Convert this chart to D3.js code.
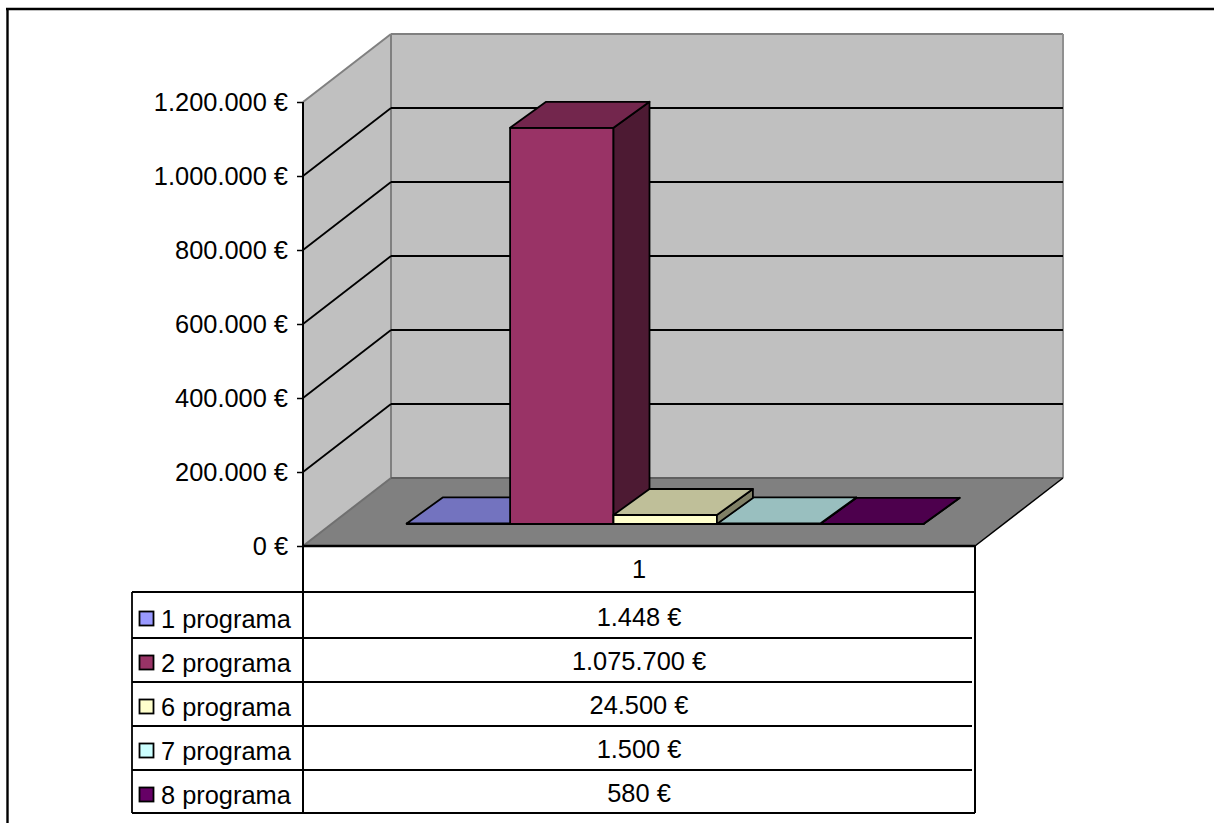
<!DOCTYPE html>
<html><head><meta charset="utf-8">
<script src="https://cdnjs.cloudflare.com/ajax/libs/d3/7.8.5/d3.min.js"></script>
<style>html,body{margin:0;padding:0;background:#fff}svg{display:block}text{font-family:"Liberation Sans",Arial,sans-serif;fill:#000}</style>
</head><body><svg id="c" width="1214" height="823"></svg>
<script>
const categories = ["1"];
const seriesNames = ["1 programa","2 programa","6 programa","7 programa","8 programa"];
const seriesValues = [1448,1075700,24500,1500,580];
const valueLabels = ["1.448 €","1.075.700 €","24.500 €","1.500 €","580 €"];
const seriesColors = ["#9999FF","#993366","#FFFFCC","#CCFFFF","#660066"];
const yTicks = [0,200000,400000,600000,800000,1000000,1200000];
const drawOrder = [0,4,3,1,2];
const yMax = 1200000, fontSize = 25.4;

const svg = d3.select("#c");
const y = d3.scaleLinear().domain([0,yMax]).range([546,102]);
const h = d3.scaleLinear().domain([0,yMax]).range([0,442]);
const x = d3.scaleBand().domain(d3.range(seriesNames.length)).range([378.7,895.7]);
const x0 = 303, x1 = 975, wallDx = 88, wallDy = -68;
const nearDx = 28, nearDy = -22, farDx = 64, farDy = -48;
const poly = (pts,fill,stroke,sw)=>svg.append("polygon").attr("points",pts.map(p=>p.join(",")).join(" "))
  .attr("fill",fill).attr("stroke",stroke||"none").attr("stroke-width",sw||0).attr("stroke-linejoin","round");
const line = (a,b,c,w)=>svg.append("line").attr("x1",a[0]).attr("y1",a[1]).attr("x2",b[0]).attr("y2",b[1]).attr("stroke",c).attr("stroke-width",w);

// frame (top + left only)
line([6,9],[1214,9],"#000",2.4);
line([7.5,8],[7.5,823],"#000",2.4);

// walls
const y0 = y(0), yT = y(yMax);
poly([[x0+wallDx,yT+wallDy],[x1+wallDx,yT+wallDy],[x1+wallDx,y0+wallDy],[x0+wallDx,y0+wallDy]],"#C0C0C0");
poly([[x0,yT],[x0+wallDx,yT+wallDy],[x0+wallDx,y0+wallDy],[x0,y0]],"#C0C0C0");
// floor
poly([[x0,y0],[x0+wallDx,y0+wallDy],[x1+wallDx,y0+wallDy],[x1,y0]],"#808080");
// wall edges
line([x0,yT],[x0+wallDx,yT+wallDy],"#808080",2);
line([x0+wallDx,yT+wallDy],[x1+wallDx,yT+wallDy],"#808080",2);
line([x0+wallDx,yT+wallDy],[x0+wallDx,y0+wallDy],"#808080",2);
line([x1+wallDx,yT+wallDy],[x1+wallDx,y0+wallDy],"#909090",2);
line([x0,y0],[x0+wallDx,y0+wallDy],"#707070",2);
line([x0+wallDx,y0+wallDy],[x1+wallDx,y0+wallDy],"#606060",2);
line([x1,y0],[x1+wallDx,y0+wallDy],"#000",1.5);
// gridlines
yTicks.filter(t=>t>0&&t<yMax).forEach(t=>{
  line([x0,y(t)],[x0+wallDx,y(t)+wallDy],"#000",1.8);
  line([x0+wallDx,y(t)+wallDy],[x1+wallDx,y(t)+wallDy],"#000",1.8);
});

// bars
const shade = (c,k)=>{const r=d3.rgb(c);return d3.rgb(r.r*k,r.g*k,r.b*k).formatHex();};
drawOrder.forEach(i=>{
  const l=x(i), r=l+x.bandwidth(), hh=h(seriesValues[i]);
  const nb=y0+nearDy, fb=y0+farDy, c=seriesColors[i];
  const sw=1.8;
  poly([[l+nearDx,nb-hh],[r+nearDx,nb-hh],[r+nearDx,nb],[l+nearDx,nb]],c,"#000",sw);
  poly([[r+nearDx,nb-hh],[r+farDx,fb-hh],[r+farDx,fb],[r+nearDx,nb]],shade(c,0.5),"#000",sw);
  poly([[l+nearDx,nb-hh],[l+farDx,fb-hh],[r+farDx,fb-hh],[r+nearDx,nb-hh]],shade(c,0.75),"#000",sw);
});

// value axis
const fmt = d3.formatLocale({decimal:",",thousands:".",grouping:[3],currency:["","€"]}).format(",");
const axis = d3.axisLeft(y).tickValues(yTicks).tickSize(6).tickPadding(9).tickFormat(v=>fmt(v)+" €");
const g = svg.append("g").attr("transform",`translate(${x0},0)`).call(axis);
g.selectAll(".domain").remove();
g.selectAll("line").attr("stroke","#000").attr("stroke-width",1.5);
g.selectAll("text").attr("font-size",fontSize).attr("font-family",'"Liberation Sans",Arial,sans-serif').attr("fill","#000");
line([x0,yT],[x0,813],"#000",2);

// data table
const rowYs = [592,638,682,726,770,813];
const legendBaselines = [628,672,716,760,804];
const valueBaselines = [626,670,714,758,802];
const tableLeft = 132, mid = (x0+x1)/2;
line([x0,y0],[x1,y0],"#000",2.5);
line([x1,y0],[x1,813],"#000",2);
line([tableLeft,592],[tableLeft,813],"#000",1.8);
rowYs.forEach((ry,i)=>line([tableLeft,ry],[i===0||i===5?x1:972,ry],"#000",1.8));
svg.append("text").attr("x",mid).attr("y",578).attr("text-anchor","middle").attr("font-size",fontSize).text(categories[0]);
seriesNames.forEach((n,i)=>{
  const by=legendBaselines[i];
  svg.append("rect").attr("x",139.5).attr("y",by-16.5).attr("width",14).attr("height",14).attr("fill",seriesColors[i]).attr("stroke","#000").attr("stroke-width",1.8);
  svg.append("text").attr("x",161).attr("y",by).attr("font-size",fontSize).text(n);
  svg.append("text").attr("x",mid).attr("y",valueBaselines[i]).attr("text-anchor","middle").attr("font-size",fontSize).text(valueLabels[i]);
});
</script></body></html>
